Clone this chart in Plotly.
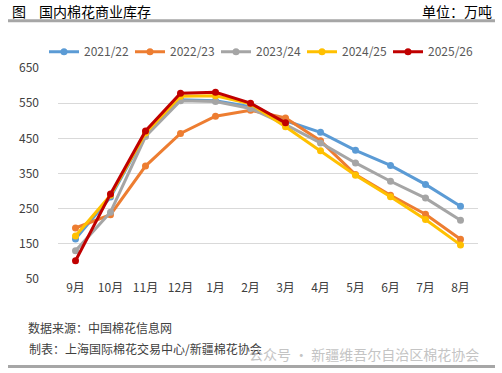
import plotly.graph_objects as go

months = ["9月", "10月", "11月", "12月", "1月", "2月", "3月", "4月", "5月", "6月", "7月", "8月"]
s2122 = [164, 283, 462, 560, 557, 540, 500, 467, 416, 373, 319, 257]
s2223 = [195, 233, 371, 464, 513, 530, 508, 443, 347, 288, 234, 163]
s2324 = [130, 240, 455, 557, 555, 535, 489, 437, 380, 328, 280, 217]
s2425 = [172, 288, 465, 570, 571, 548, 483, 415, 345, 284, 219, 147]
s2526 = [102, 292, 471, 578, 581, 550, 494, None, None, None, None, None]
names = ["2021/22", "2022/23", "2023/24", "2024/25", "2025/26"]
colors = ["#5B9BD5", "#ED7D31", "#A5A5A5", "#FFC000", "#C00000"]

FONT = "Noto Sans CJK SC"
fig = go.Figure()
for name, vals, c in zip(names, [s2122, s2223, s2324, s2425, s2526], colors):
    fig.add_trace(go.Scatter(x=months, y=vals, name=name, mode="lines+markers",
                             line=dict(color=c, width=3), marker=dict(color=c, size=7),
                             connectgaps=False))

def px_x(x):
    return (x - 58) / 420

def px_y(y):
    return (278.7 - y) / 210.5

fig.update_layout(
    width=502, height=373,
    margin=dict(l=58, r=24, t=68, b=94, autoexpand=False),
    paper_bgcolor="white", plot_bgcolor="white",
    font=dict(family=FONT, size=12, color="#595959"),
    showlegend=True,
    legend=dict(orientation="h", xref="paper", x=px_x(44), xanchor="left",
                yref="paper", y=px_y(52), yanchor="middle",
                font=dict(size=12, color="#595959"), entrywidth=41, entrywidthmode="pixels",
                tracegroupgap=0, bgcolor="rgba(0,0,0,0)"),
    xaxis=dict(range=[-0.5, 11.5], showgrid=False, showline=False, ticks="",
               tickfont=dict(size=12, color="#404040")),
    yaxis=dict(range=[50, 650], tickvals=[50, 150, 250, 350, 450, 550, 650],
               showgrid=True, gridcolor="#D9D9D9", gridwidth=1, zeroline=False,
               ticks="", ticklabelstandoff=18, tickfont=dict(size=12, color="#404040")),
)

shapes = [
    dict(type="line", xref="paper", yref="paper", x0=px_x(8), x1=px_x(495), y0=px_y(21), y1=px_y(21),
         line=dict(color="#A6A6A6", width=3)),
    dict(type="line", xref="paper", yref="paper", x0=px_x(8), x1=px_x(495), y0=px_y(366), y1=px_y(366),
         line=dict(color="#A6A6A6", width=3)),
]
fig.update_layout(shapes=shapes)

ann = [
    dict(text="图", x=px_x(18.5), y=px_y(11.5), font=dict(size=14, color="#000000")),
    dict(text="国内棉花商业库存", x=px_x(95.3), y=px_y(11.5), font=dict(size=14, color="#000000")),
    dict(text="单位：万吨", x=px_x(456.7), y=px_y(11.5), font=dict(size=14, color="#000000")),
    dict(text="数据来源：中国棉花信息网", x=px_x(99.7), y=px_y(326.7), font=dict(size=12, color="#404040")),
    dict(text="制表：上海国际棉花交易中心/新疆棉花协会", x=px_x(145), y=px_y(348.3), font=dict(size=12, color="#404040")),
    dict(text="公众号 · 新疆维吾尔自治区棉花协会", x=px_x(364), y=px_y(353.3), font=dict(size=14, color="#C4C4C4")),
]
for a in ann:
    a.update(xref="paper", yref="paper", showarrow=False, xanchor="center", yanchor="middle")
fig.update_layout(annotations=ann)

fig.write_html("out.html", config={"displayModeBar": False},
               post_script="document.body.style.margin='0';")
